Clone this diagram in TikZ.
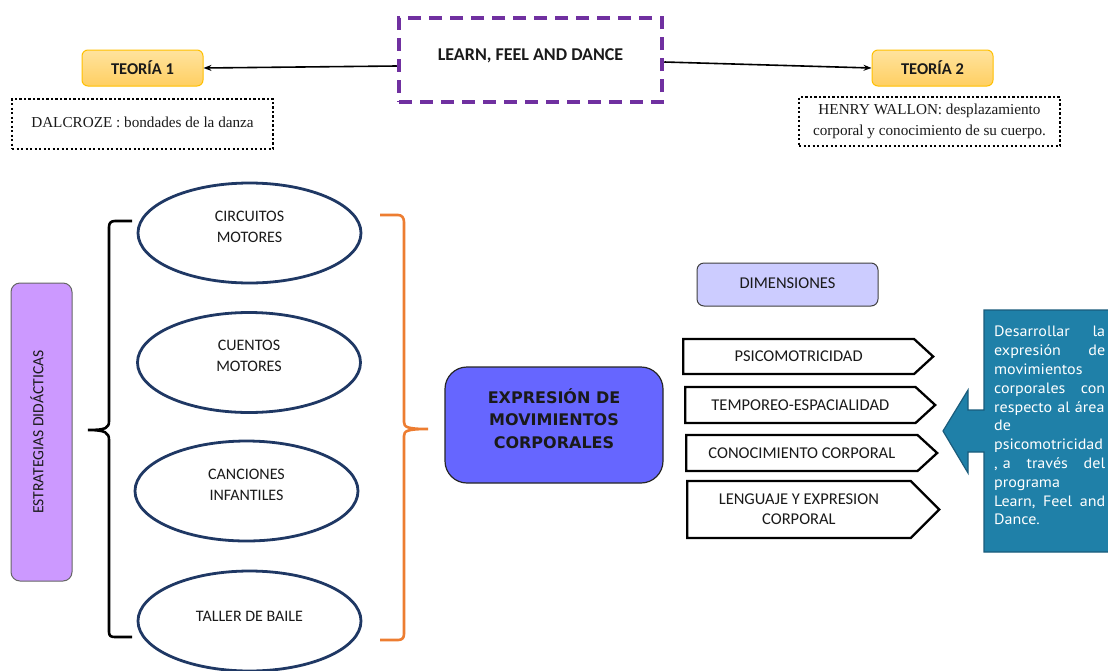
\documentclass[tikz,border=0pt]{standalone}
\usepackage{fontspec}
\setmainfont{Carlito}
\newfontfamily\timesf{Liberation Serif}
\newfontfamily\heavyf{DejaVu Sans}
\newfontfamily\ptsansf[FakeStretch=1.07]{PT Sans}
\usetikzlibrary{shapes.geometric,shapes.symbols,arrows.meta}
\newcommand\myfs[2]{\fontsize{#1}{#2}\selectfont}
\definecolor{lfdpurple}{HTML}{7030A0}
\definecolor{teoborder}{HTML}{FFC000}
\definecolor{teotop}{HTML}{FFE39E}
\definecolor{teobot}{HTML}{FFCF62}
\definecolor{estfill}{HTML}{CC99FF}
\definecolor{navy}{HTML}{1F3864}
\definecolor{bracor}{HTML}{ED7D31}
\definecolor{expfill}{HTML}{6666FF}
\definecolor{dimfill}{HTML}{CCCCFF}
\definecolor{callfill}{HTML}{1F80A8}
\definecolor{callborder}{HTML}{1A5C7C}
\definecolor{txt}{HTML}{1A1A1A}
\begin{document}
\begin{tikzpicture}[x=1pt,y=-1pt,
  every node/.style={text=txt},
  learnbox/.style={draw=lfdpurple,line width=4.5pt,dash pattern=on 13pt off 8pt,minimum width=263pt,minimum height=84pt},
  learntext/.style={font=\myfs{18}{21}\bfseries},
  teobox/.style={draw=teoborder,line width=1pt,rounded corners=6pt,top color=teotop,bottom color=teobot,minimum width=121pt,minimum height=36pt,font=\myfs{16.5}{19}\bfseries},
  dotbox/.style={draw=black,line width=2.5pt,dash pattern=on 2.2pt off 2.3pt,align=center,font=\timesf\myfs{15.2}{21}},
  conn/.style={draw=black,line width=1.6pt,-{Stealth[length=8pt,width=6pt]}},
  ellbox/.style={ellipse,draw=navy,line width=2.8pt,minimum width=223pt,minimum height=100pt},
  elltext/.style={align=center,font=\myfs{16}{21}},
  sig/.style={signal,signal to=east,draw=black,line width=2.3pt,fill=white,anchor=west,minimum height=35pt,signal pointer angle=85,font=\myfs{16.5}{20},align=center},
]
\useasboundingbox[fill=white] (0,0) rectangle (1108,670);

% top part
\node[learnbox] (learn) at (530.5,60) {};
\node[learntext] (learntxt) at ([yshift=4pt]learn.center) {LEARN, FEEL AND DANCE};
\node[teobox] (teo1) at (142.5,68) {TEORÍA 1};
\node[teobox] (teo2) at (932.5,68) {TEORÍA 2};
\node[dotbox,minimum width=261pt,minimum height=50pt] (dal) at (142.5,124) {\raisebox{4pt}{DALCROZE : bondades de la danza}};
\node[dotbox,minimum width=261pt,minimum height=49pt] (wal) at (929.5,121.5) {HENRY WALLON: desplazamiento\\corporal y conocimiento de su cuerpo.};
\draw[conn] ([yshift=-6pt]learn.west) -- (teo1.east);
\draw[conn] ([yshift=-2pt]learn.east) -- (teo2.west);

% left part
\node[draw=gray!80!black,line width=1pt,fill=estfill,rounded corners=9pt,minimum width=61pt,minimum height=298pt] (est) at (41.5,432) {};
\node[rotate=90,font=\myfs{15.6}{18}] (esttext) at (37,432) {ESTRATEGIAS DIDÁCTICAS};

\draw[black,line width=2.6pt] (132,221) -- (115,221) .. controls (111,221) and (109,223) .. (109,227) -- (109,421) .. controls (109,428) and (106,430) .. (88,430) .. controls (106,430) and (109,433) .. (109,440) -- (109,632) .. controls (109,636) and (111,637) .. (115,637) -- (132,637);

\node[ellbox] (e1) at (249.5,233) {};
\node[ellbox] (e2) at (249,362.5) {};
\node[ellbox] (e3) at (246.5,491) {};
\node[ellbox] (e4) at (249.5,621) {};
\node[elltext] (t1) at ([yshift=6.5pt]e1.center) {CIRCUITOS\\MOTORES};
\node[elltext] (t2) at ([yshift=6.5pt]e2.center) {CUENTOS\\MOTORES};
\node[elltext] (t3) at ([yshift=6pt]e3.center) {CANCIONES\\INFANTILES};
\node[elltext] (t4) at ([yshift=5pt]e4.center) {TALLER DE BAILE};

\draw[bracor,line width=2.6pt] (380,215) -- (398,215) .. controls (402,215) and (404,218) .. (404,222) -- (404,422) .. controls (404,427) and (407,429) .. (428,429) .. controls (407,429) and (404,431) .. (404,436) -- (404,634) .. controls (404,638) and (402,640) .. (398,640) -- (380,640);

% centre
\node[draw=black!85,line width=1.2pt,fill=expfill,rounded corners=22pt,minimum width=218pt,minimum height=116pt] (exp) at (554,425) {};
\node[align=center,font=\heavyf\bfseries\myfs{16}{22.5}] (exptext) at ([yshift=6.5pt]exp.center) {EXPRESIÓN DE\\MOVIMIENTOS\\CORPORALES};

\node[draw=black!75,line width=1pt,fill=dimfill,rounded corners=7pt,minimum width=181pt,minimum height=43pt,font=\myfs{16.5}{19}] (dim) at (787.5,284.5) {\raisebox{3pt}{DIMENSIONES}};

\node[sig,minimum width=250pt] (s1) at (682,356.5) {PSICOMOTRICIDAD};
\node[sig,minimum width=250pt,minimum height=36pt] (s2) at (684,405) {TEMPOREO-ESPACIALIDAD};
\node[sig,minimum width=251pt,minimum height=36pt] (s3) at (685,453) {CONOCIMIENTO CORPORAL};
\node[sig,minimum width=252pt,minimum height=57pt,signal pointer angle=90] (s4) at (686,509.5) {LENGUAJE Y EXPRESION\\CORPORAL};

% callout
\draw[fill=callfill,draw=callborder,line width=1.2pt] (984,310) -- (1112,310) -- (1112,552) -- (984,552) -- (984,452) -- (968,452) -- (968,473) -- (943,431) -- (968,390) -- (968,410) -- (984,410) -- cycle;
\node[anchor=north west,inner sep=0pt,text width=111pt,align=left,text=white,font=\ptsansf\myfs{15}{18.8}] (calltext) at (994,326) {Desarrollar\hfill la\\expresión\hfill de\\movimientos\\corporales\hfill con\\respecto al área\\de\\psicomotricidad\\, a\hfill través\hfill del\\programa\\Learn,\hfill Feel\hfill and\\Dance.};
\end{tikzpicture}
\end{document}
